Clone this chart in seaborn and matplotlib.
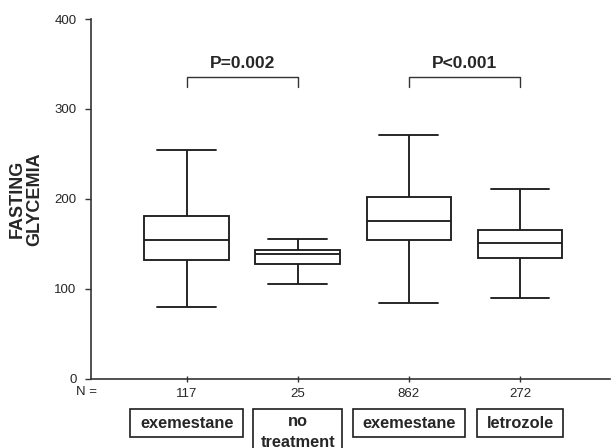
import numpy as np
import pandas as pd
import matplotlib
matplotlib.use("Agg")
import matplotlib.pyplot as plt
import seaborn as sns
from matplotlib.patches import Rectangle
from matplotlib.transforms import blended_transform_factory

# ---- data ----
n_labels = ["117", "25", "862", "272"]
treatments = ["exemestane", "no\ntreatment", "exemestane", "letrozole"]
whisker_low = [80, 105, 84, 90]
q1 = [132, 127.5, 154, 134]
median = [154, 138.5, 175.5, 150.5]
q3 = [181, 142.5, 201.5, 165.5]
whisker_high = [254.5, 155.5, 271, 211]

p_labels = ["P=0.002", "P<0.001"]
p_pairs = [(0, 1), (2, 3)]
bracket_top = 336
bracket_leg = 324
p_text_y = 351

y_ticks = [0, 100, 200, 300, 400]

rows = []
for g, lo, a, m, b, hi in zip(n_labels, whisker_low, q1, median, q3, whisker_high):
    for v in (lo, a, m, b, hi):
        rows.append({"N": g, "glycemia": v})
df = pd.DataFrame(rows)

sns.set_style("white")
plt.rcParams["font.family"] = ["Liberation Sans", "DejaVu Sans"]

W, H = 611, 448
fig = plt.figure(figsize=(W / 100, H / 100), dpi=100)
ax = fig.add_axes([91 / W, 69.5 / H, 519 / W, 359.5 / H])

line_col = "#1e1e1e"
sns.boxplot(data=df, x="N", y="glycemia", order=n_labels, whis=(0, 100),
            width=0.76, color="white", linecolor=line_col, linewidth=1.35,
            capwidths=0.53, ax=ax)

ax.set_xlim(-0.86, 3.81)
ax.set_ylim(0, 400)
ax.set_yticks(y_ticks)
ax.set_xticks(range(len(n_labels)))
ax.set_xticklabels(n_labels)
ax.set_xlabel("")
ax.set_ylabel("FASTING\nGLYCEMIA", fontsize=13, fontweight="bold",
              linespacing=1.05)
ax.yaxis.set_label_coords(-0.125, 0.5)
ax.yaxis.label.set_verticalalignment("center")

for s in ("top", "right"):
    ax.spines[s].set_visible(False)
for s in ("left", "bottom"):
    ax.spines[s].set_color("#333333")
    ax.spines[s].set_linewidth(1.2)

ax.tick_params(axis="y", direction="out", length=4.5, width=1.0, color="#333333",
               labelsize=9.5, pad=6, left=True)
ax.tick_params(axis="x", direction="inout", length=4, width=1.0, color="#333333",
               labelsize=9.5, pad=5, bottom=True)

# N = label
fig.text(97 / W, 1 - 391.7 / H, "N =", ha="right", va="center", fontsize=9.5)

# significance brackets
for (i, j), lab in zip(p_pairs, p_labels):
    ax.plot([i, i, j, j], [bracket_leg, bracket_top, bracket_top, bracket_leg],
            color="#333333", lw=1.0, clip_on=False)
    ax.text((i + j) / 2, p_text_y, lab, ha="center", va="center",
            fontsize=12.5, fontweight="bold")

# treatment label boxes
tr = blended_transform_factory(ax.transData, fig.transFigure)
texts = []
for i, lab in enumerate(treatments):
    multi = "\n" in lab
    base_px = 446.5 if multi else 428.3   # baseline of last line
    t = ax.text(i, 1 - base_px / H, lab, transform=tr, ha="center",
                va="baseline", fontsize=11.8, fontweight="bold",
                linespacing=1.5, clip_on=False)
    texts.append((t, multi))

fig.canvas.draw()
renderer = fig.canvas.get_renderer()
inv = fig.transFigure.inverted()
for t, multi in texts:
    bb = t.get_window_extent(renderer)
    pad_x = 7 if multi else 9.5
    top_px = 409
    bot_px = 470 if multi else 436.5
    x0 = bb.x0 - pad_x
    x1 = bb.x1 + pad_x
    y0 = H - bot_px
    y1 = H - top_px
    (fx0, fy0), (fx1, fy1) = inv.transform([(x0, y0), (x1, y1)])
    fig.patches.append(Rectangle((fx0, fy0), fx1 - fx0, fy1 - fy0,
                                 transform=fig.transFigure, fill=False,
                                 edgecolor="#1e1e1e", lw=1.2))

fig.savefig("out.png", dpi=100)
